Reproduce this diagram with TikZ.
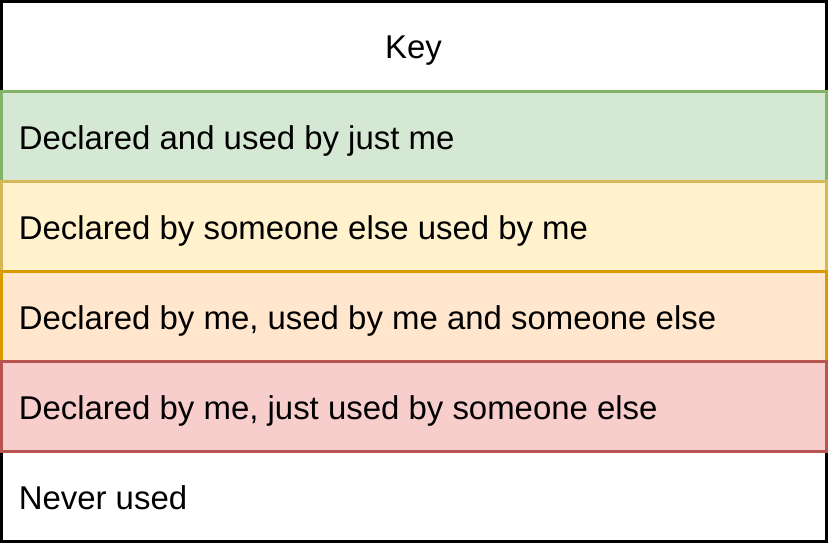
\documentclass[tikz,border=0pt]{standalone}
\usepackage{fontspec}
\setmainfont{Liberation Sans}
\definecolor{gfill}{HTML}{D5E8D4}\definecolor{gline}{HTML}{82B366}
\definecolor{yfill}{HTML}{FFF2CC}\definecolor{yline}{HTML}{D6B656}
\definecolor{ofill}{HTML}{FFE6CC}\definecolor{oline}{HTML}{D79B00}
\definecolor{rfill}{HTML}{F8CECC}\definecolor{rline}{HTML}{B85450}
\tikzset{
  rowbox/.style={line width=2pt},
  lbl/.style={anchor=base west, inner sep=0pt, font=\fontsize{24.7pt}{28pt}\selectfont},
}
\begin{document}
\begin{tikzpicture}[x=0.75pt,y=-0.75pt]
\useasboundingbox (0,0) rectangle (828,543);
\draw[rowbox, draw=black, fill=white] (1.3,1.3) rectangle (826.7,541.7);
\draw[rowbox, draw=gline, fill=gfill] (1.3,91.5) rectangle (826.7,181.5);
\draw[rowbox, draw=yline, fill=yfill] (1.3,181.5) rectangle (826.7,271.5);
\draw[rowbox, draw=oline, fill=ofill] (1.3,271.5) rectangle (826.7,361.5);
\draw[rowbox, draw=rline, fill=rfill] (1.3,361.5) rectangle (826.7,451.5);
\node[lbl, anchor=base] (key) at (413.5,58.5) {Key};
\node[lbl] (r1) at (18.5,149) {Declared and used by just me};
\node[lbl] (r2) at (18.5,239) {Declared by someone else used by me};
\node[lbl] (r3) at (18.5,329) {Declared by me, used by me and someone else};
\node[lbl] (r4) at (18.5,419) {Declared by me, just used by someone else};
\node[lbl] (r5) at (18.5,509.5) {Never used};
\end{tikzpicture}
\end{document}
